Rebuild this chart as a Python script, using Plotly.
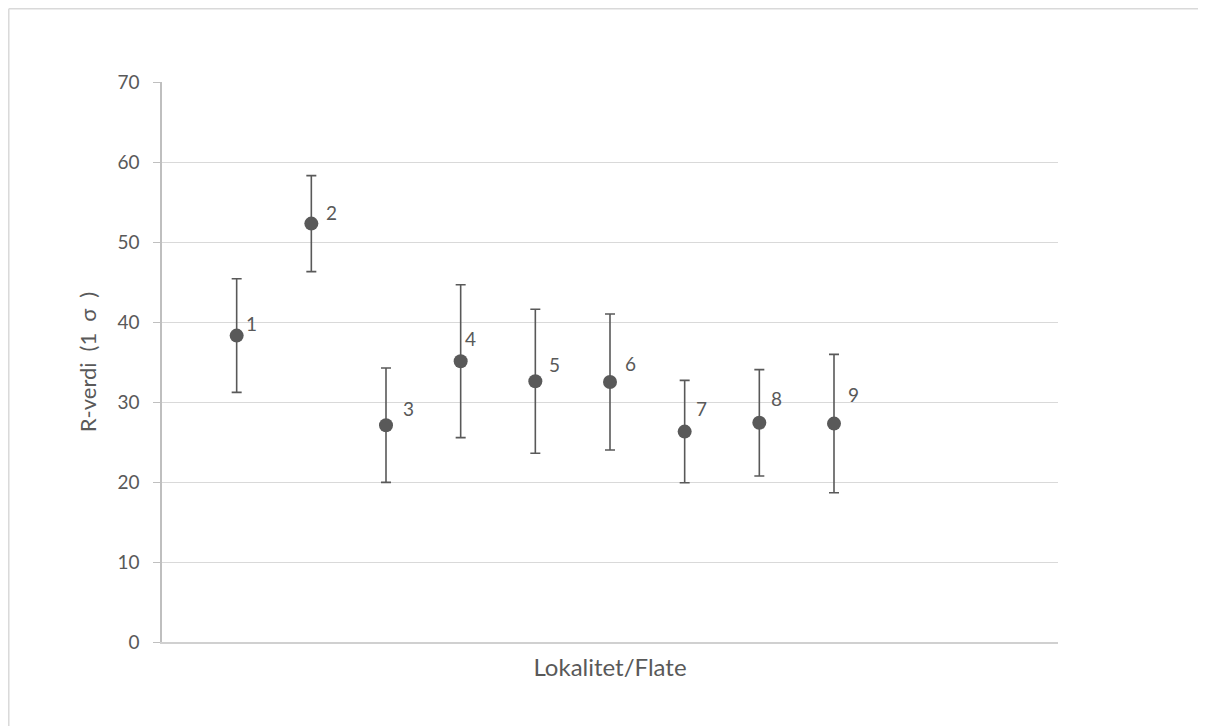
import plotly.graph_objects as go

# ---- data ----
sites = [1, 2, 3, 4, 5, 6, 7, 8, 9]
labels = ["1", "2", "3", "4", "5", "6", "7", "8", "9"]
r_values = [38.3, 52.3, 27.1, 35.1, 32.6, 32.5, 26.3, 27.4, 27.3]
sigma = [7.1, 6.0, 7.15, 9.55, 9.0, 8.5, 6.4, 6.65, 8.65]
y_ticks = [0, 10, 20, 30, 40, 50, 60, 70]

# ---- style ----
txt = "#595959"
mark = "#595959"
font_family = "Lato, 'Open Sans', sans-serif"
fs = 19
# label pixel offsets (as placed in the original)
lab_dx = [15, 20, 22, 10, 19, 20, 17, 17, 19]
lab_dy = [12, 11, 17, 23, 17, 19, 23, 24, 29]

fig = go.Figure()
fig.add_trace(go.Scatter(
    x=sites, y=r_values, mode="markers",
    marker=dict(color=mark, size=14, line=dict(width=0)),
    error_y=dict(type="data", array=sigma, visible=True,
                 color=mark, thickness=1.6, width=5),
    showlegend=False, hoverinfo="x+y",
))

for xi, yi, t, dx, dy in zip(sites, r_values, labels, lab_dx, lab_dy):
    fig.add_annotation(x=xi, y=yi, text=t, showarrow=False,
                       xshift=dx, yshift=dy,
                       font=dict(size=fs, color=txt, family=font_family))

# outer chart border (top and left edges of the chart area)
border = dict(color="#d9d9d9", width=1.5)
fig.add_shape(type="line", xref="paper", yref="paper",
              x0=-0.1710, x1=1.4, y0=1.1308, y1=1.1308, line=border, layer="below")
fig.add_shape(type="line", xref="paper", yref="paper",
              x0=-0.1710, x1=-0.1710, y0=-0.4, y1=1.1308, line=border, layer="below")

fig.update_layout(
    width=1206, height=726,
    margin=dict(l=154, r=156, t=74, b=92),
    paper_bgcolor="white", plot_bgcolor="white",
    font=dict(family=font_family, color=txt, size=fs),
    xaxis=dict(range=[0, 12], showgrid=False, zeroline=False,
               showticklabels=False, ticks="",
               showline=True, linecolor="#d0d0d0", linewidth=1.5,
               title=dict(text="Lokalitet/Flate", standoff=16,
                          font=dict(size=24, color=txt, family=font_family))),
    yaxis=dict(range=[0, 70], tickvals=y_ticks, showgrid=True,
               gridcolor="#d9d9d9", gridwidth=1.3, zeroline=False,
               showline=True, linecolor="#bfbfbf", linewidth=1.5,
               ticks="outside", ticklen=7, tickcolor="#bfbfbf", tickwidth=1.3,
               ticklabelstandoff=10,
               tickfont=dict(size=fs, color=txt, family=font_family),
               title=dict(text="R-verdi\u2002(1\u2002σ\u2002)", standoff=15,
                          font=dict(size=22, color=txt, family=font_family))),
)

fig.write_html("out.html",
               post_script="document.documentElement.style.overflow='hidden';"
                           "document.body.style.overflow='hidden';")
